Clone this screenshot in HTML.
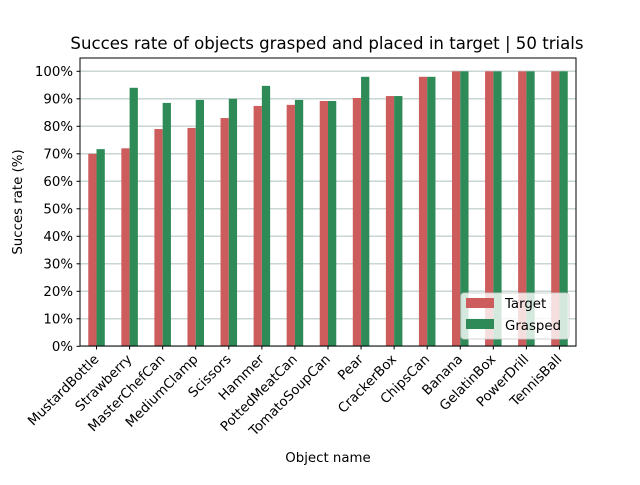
<!DOCTYPE html>
<html><head><meta charset="utf-8"><style>
body{margin:0;background:#fff}
svg{font-family:"DejaVu Sans","Liberation Sans",sans-serif}
</style></head><body>
<svg id="chart" width="640" height="480" xmlns="http://www.w3.org/2000/svg">
<rect width="640" height="480" fill="#fff"/>
<text x="327" y="49" font-size="16.6" text-anchor="middle">Succes rate of objects grasped and placed in target | 50 trials</text>
<g id="grid"></g>
<g id="bars"></g>
<rect x="80" y="58" width="496" height="288" fill="none" stroke="#000" stroke-width="1"/>
<g id="yticks"></g>
<g id="xticks"></g>
<text transform="translate(22,202) rotate(-90)" font-size="13.33" text-anchor="middle">Succes rate (%)</text>
<text x="328" y="462" font-size="13.33" text-anchor="middle">Object name</text>
<g>
<rect x="461" y="293" width="108" height="46" rx="3" fill="#fff" fill-opacity="0.8" stroke="#ccc" stroke-opacity="0.8"/>
<rect x="466" y="298" width="28" height="10" fill="#cd5c5c"/>
<text x="505" y="308" font-size="13.33">Target</text>
<rect x="466" y="319" width="28" height="10" fill="#2e8b57"/>
<text x="505" y="330" font-size="13.33">Grasped</text>
</g>
</svg>
<script>
const categories=["MustardBottle","Strawberry","MasterChefCan","MediumClamp","Scissors","Hammer","PottedMeatCan","TomatoSoupCan","Pear","CrackerBox","ChipsCan","Banana","GelatinBox","PowerDrill","TennisBall"];
const targetValues=[70,72,79,79.4,83,87.4,87.8,89.2,90.3,91,98,100,100,100,100];
const graspedValues=[71.7,94,88.5,89.6,90,94.7,89.6,89.2,98,91,98,100,100,100,100];
const yTicks=[0,10,20,30,40,50,60,70,80,90,100];
const NS="http://www.w3.org/2000/svg";
const L=80,R=576,Y0=346.3,PX=2.75;
const step=(R-L)/categories.length;
const xc=i=>L+step*(i+0.5);
const y=v=>Y0-v*PX;
function mk(t,a,p){const e=document.createElementNS(NS,t);for(const k in a)e.setAttribute(k,a[k]);p.appendChild(e);return e;}
const grid=document.getElementById('grid'),bars=document.getElementById('bars'),yt=document.getElementById('yticks'),xt=document.getElementById('xticks');
yTicks.forEach(v=>{
 const g=mk('line',{x1:L,x2:R,y1:y(v),y2:y(v),stroke:'#b0c4c4','stroke-opacity':0.7,'stroke-width':1.5},grid);
 
 
 mk('line',{x1:L-3.5,x2:L,y1:y(v),y2:y(v),stroke:'#000'},yt);
 const t=mk('text',{x:L-7,y:y(v)+4.5,'font-size':13.33,'text-anchor':'end'},yt);
 t.textContent=v+'%';
 
 
});
const bw=step*0.25;
categories.forEach((c,i)=>{
 const x=xc(i);
 const r1=mk('rect',{x:x-bw,y:y(targetValues[i]),width:bw,height:Y0-y(targetValues[i]),fill:'#cd5c5c'},bars);
 
 
 const r2=mk('rect',{x:x,y:y(graspedValues[i]),width:bw,height:Y0-y(graspedValues[i]),fill:'#2e8b57'},bars);
 
 
 mk('line',{x1:x,x2:x,y1:346,y2:349.5,stroke:'#000'},xt);
 const t=mk('text',{transform:`translate(${x+3},${360}) rotate(-45)`,'font-size':13.33,'text-anchor':'end'},xt);
 t.textContent=c;
 
 
});
</script>
</body></html>
